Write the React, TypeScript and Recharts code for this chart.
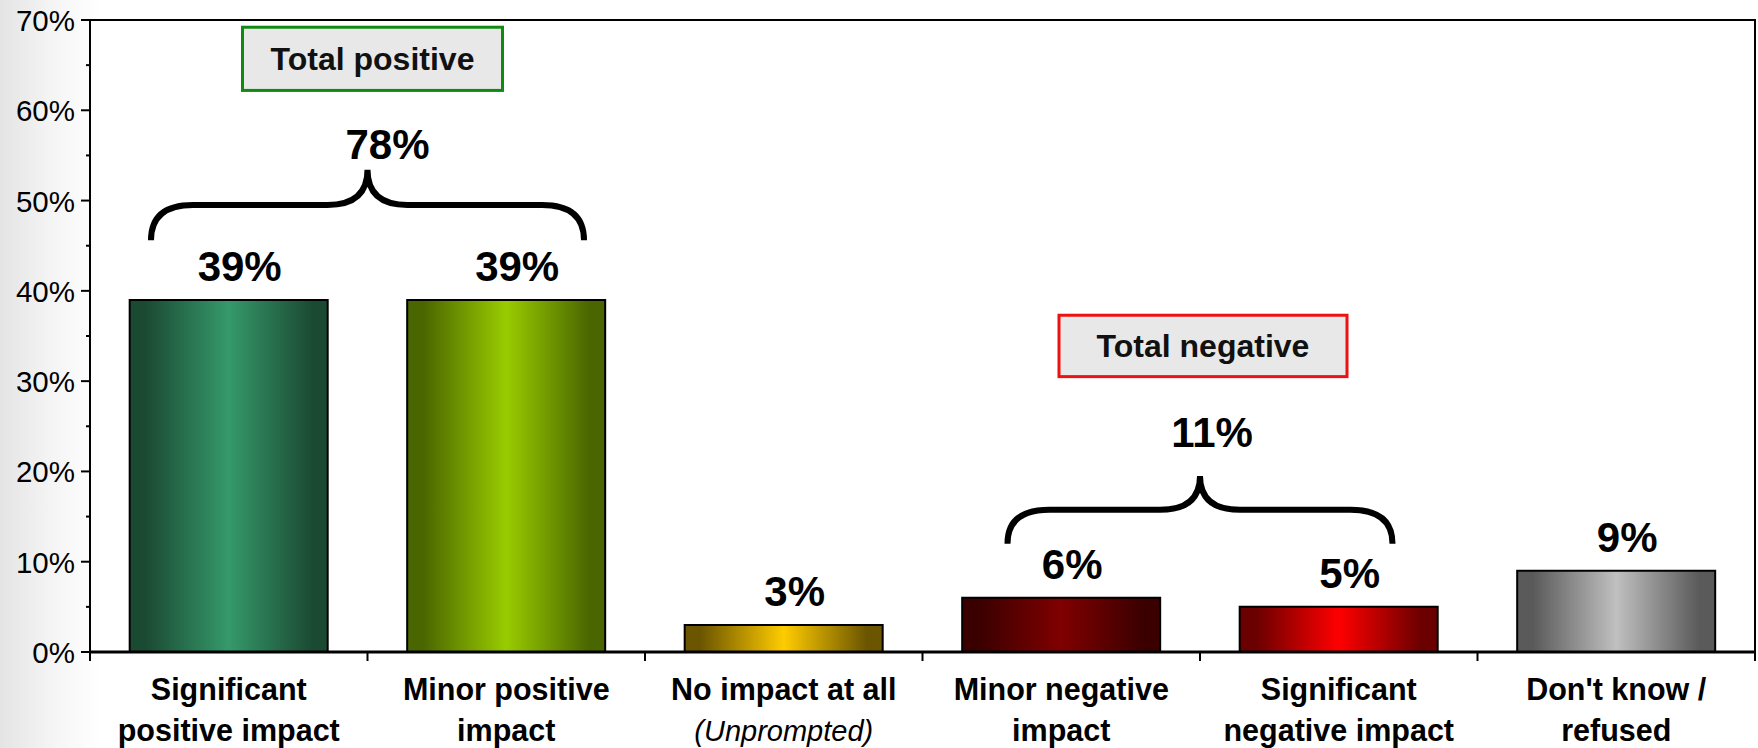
import React from "react";
import { BarChart, Bar, XAxis, YAxis, Cell, LabelList, ReferenceArea } from "recharts";

const categories = [
  "Significant positive impact",
  "Minor positive impact",
  "No impact at all (Unprompted)",
  "Minor negative impact",
  "Significant negative impact",
  "Don't know / refused",
];
const values = [39, 39, 3, 6, 5, 9];
const tickLines = [
  ["Significant", "positive impact"],
  ["Minor positive", "impact"],
  ["No impact at all", "(Unprompted)"],
  ["Minor negative", "impact"],
  ["Significant", "negative impact"],
  ["Don't know /", "refused"],
];
const yTicks = [0, 5, 10, 15, 20, 25, 30, 35, 40, 45, 50, 55, 60, 65, 70];
const groupNames = ["Total positive", "Total negative"];
const groupTotals = [78, 11];
const groupMembers = [
  [0, 1],
  [3, 4],
];

// edge / centre colours of the bar gradients
const barColors = [
  ["#1b4a33", "#35996b"],
  ["#4a6600", "#99cc00"],
  ["#6b5500", "#ffcc00"],
  ["#3a0000", "#800000"],
  ["#6a0000", "#ff0000"],
  ["#5a5a5a", "#c0c0c0"],
];

const W = 1758;
const H = 748;
const MARGIN = { top: 20, right: 3, bottom: 0, left: 0 };
const Y_AXIS_W = 90;
const BAND = (W - MARGIN.left - MARGIN.right - Y_AXIS_W) / categories.length;
const FONT = '"Liberation Sans", Arial, sans-serif';

// annotation layout (values on the y scale, pixels for insets / widths)
const groupLayout = [
  { braceLow: 45.6, braceHigh: 53.4, inset: 61, boxLow: 62.2, boxHigh: 69.2, boxW: 260, boxDx: 5, border: "#108a10", labelDx: 20, labelDy: 11 },
  { braceLow: 12, braceHigh: 19.5, inset: 85, boxLow: 30.5, boxHigh: 37.3, boxW: 288, boxDx: 3, border: "#ee1111", labelDx: 12, labelDy: 29 },
];

const data = categories.map((name, i) => ({ name, value: values[i] }));

const YTick = ({ x, y, payload }: any) => {
  const major = payload.value % 10 === 0;
  return (
    <g>
      <line x1={x - (major ? 9 : 4)} y1={y} x2={x} y2={y} stroke="#000" strokeWidth={2} />
      {major && (
        <text x={x - 15} y={y + 11} textAnchor="end" fontSize={29.5} fontFamily={FONT} fill="#000">
          {`${payload.value}%`}
        </text>
      )}
    </g>
  );
};

const XTick = ({ x, y, payload }: any) => {
  const i = categories.indexOf(payload.value);
  const lines = tickLines[i] || ["", ""];
  const italic = i === 2;
  return (
    <g>
      <line x1={x - BAND / 2} y1={y} x2={x - BAND / 2} y2={y + 9} stroke="#000" strokeWidth={2} />
      {i === categories.length - 1 && (
        <line x1={x + BAND / 2} y1={y} x2={x + BAND / 2} y2={y + 9} stroke="#000" strokeWidth={2} />
      )}
      <text x={x} y={y + 48} textAnchor="middle" fontSize={30.5} fontWeight="bold" fontFamily={FONT} fill="#000">
        {lines[0]}
      </text>
      <text
        x={x}
        y={y + 89}
        textAnchor="middle"
        fontSize={italic ? 29 : 30.5}
        fontWeight={italic ? "normal" : "bold"}
        fontStyle={italic ? "italic" : "normal"}
        fontFamily={FONT}
        fill="#000"
      >
        {lines[1]}
      </text>
    </g>
  );
};

const ValueLabel = ({ x, y, width, value }: any) => (
  <text x={x + width / 2 + 11} y={y - 19} textAnchor="middle" fontSize={42} fontWeight="bold" fontFamily={FONT} fill="#000">
    {`${value}%`}
  </text>
);

const braceShape = (g: number) => (props: any) => {
  const { x, y, width, height } = props;
  const lay = groupLayout[g];
  const l = x + lay.inset;
  const r = x + width - lay.inset;
  const cx = (l + r) / 2;
  const yb = y + height;
  const ym = y + height / 2;
  const yt = y;
  const d = [
    `M ${l} ${yb}`,
    `Q ${l} ${ym} ${l + 42} ${ym}`,
    `L ${cx - 40} ${ym}`,
    `Q ${cx} ${ym} ${cx} ${yt}`,
    `Q ${cx} ${ym} ${cx + 40} ${ym}`,
    `L ${r - 42} ${ym}`,
    `Q ${r} ${ym} ${r} ${yb}`,
  ].join(" ");
  return (
    <g>
      <path d={d} fill="none" stroke="#000" strokeWidth={6} />
      <text x={cx + lay.labelDx} y={yt - lay.labelDy} textAnchor="middle" fontSize={42} fontWeight="bold" fontFamily={FONT} fill="#000">
        {`${groupTotals[g]}%`}
      </text>
    </g>
  );
};

const boxShape = (g: number) => (props: any) => {
  const { x, y, width, height } = props;
  const lay = groupLayout[g];
  const cx = x + width / 2 + lay.boxDx;
  return (
    <g>
      <rect x={cx - lay.boxW / 2} y={y} width={lay.boxW} height={height} fill="#e8e8e8" stroke={lay.border} strokeWidth={3} />
      <text x={cx} y={y + height / 2 + 11} textAnchor="middle" fontSize={32} fontWeight="bold" fontFamily={FONT} fill="#111">
        {groupNames[g]}
      </text>
    </g>
  );
};

export default function App() {
  return (
    <div
      style={{
        position: "absolute",
        left: 0,
        top: 0,
        width: W,
        height: H,
        overflow: "hidden",
        background: "linear-gradient(to right, #e4e4e4 0px, #f4f4f4 50px, #ffffff 100px)",
      }}
    >
      <BarChart width={W} height={H} data={data} margin={MARGIN} barCategoryGap="14.3%">
        <defs>
          {barColors.map(([edge, mid], i) => (
            <linearGradient key={i} id={`bar${i}`} x1="0" y1="0" x2="1" y2="0">
              <stop offset="0" stopColor={edge} />
              <stop offset="0.08" stopColor={edge} />
              <stop offset="0.5" stopColor={mid} />
              <stop offset="0.92" stopColor={edge} />
              <stop offset="1" stopColor={edge} />
            </linearGradient>
          ))}
        </defs>
        <XAxis
          dataKey="name"
          height={96}
          axisLine={{ stroke: "#000", strokeWidth: 3 }}
          tickLine={false}
          tickSize={0}
          tickMargin={0}
          tick={<XTick />}
          interval={0}
        />
        <YAxis
          width={Y_AXIS_W}
          domain={[0, 70]}
          ticks={yTicks}
          interval={0}
          axisLine={{ stroke: "#000", strokeWidth: 2 }}
          tickLine={false}
          tickSize={0}
          tickMargin={0}
          tick={<YTick />}
        />
        <ReferenceArea
          x1={categories[0]}
          x2={categories[categories.length - 1]}
          y1={0}
          y2={70}
          fill="none"
          fillOpacity={0}
          stroke="#000"
          strokeWidth={2}
        />
        <Bar dataKey="value" isAnimationActive={false} stroke="#000" strokeWidth={2}>
          {data.map((_, i) => (
            <Cell key={i} fill={`url(#bar${i})`} />
          ))}
          <LabelList dataKey="value" content={<ValueLabel />} />
        </Bar>
        {groupMembers.map((m, g) => (
          <ReferenceArea
            key={`brace${g}`}
            x1={categories[m[0]]}
            x2={categories[m[1]]}
            y1={groupLayout[g].braceLow}
            y2={groupLayout[g].braceHigh}
            shape={braceShape(g)}
          />
        ))}
        {groupMembers.map((m, g) => (
          <ReferenceArea
            key={`box${g}`}
            x1={categories[m[0]]}
            x2={categories[m[1]]}
            y1={groupLayout[g].boxLow}
            y2={groupLayout[g].boxHigh}
            shape={boxShape(g)}
          />
        ))}
      </BarChart>
    </div>
  );
}
